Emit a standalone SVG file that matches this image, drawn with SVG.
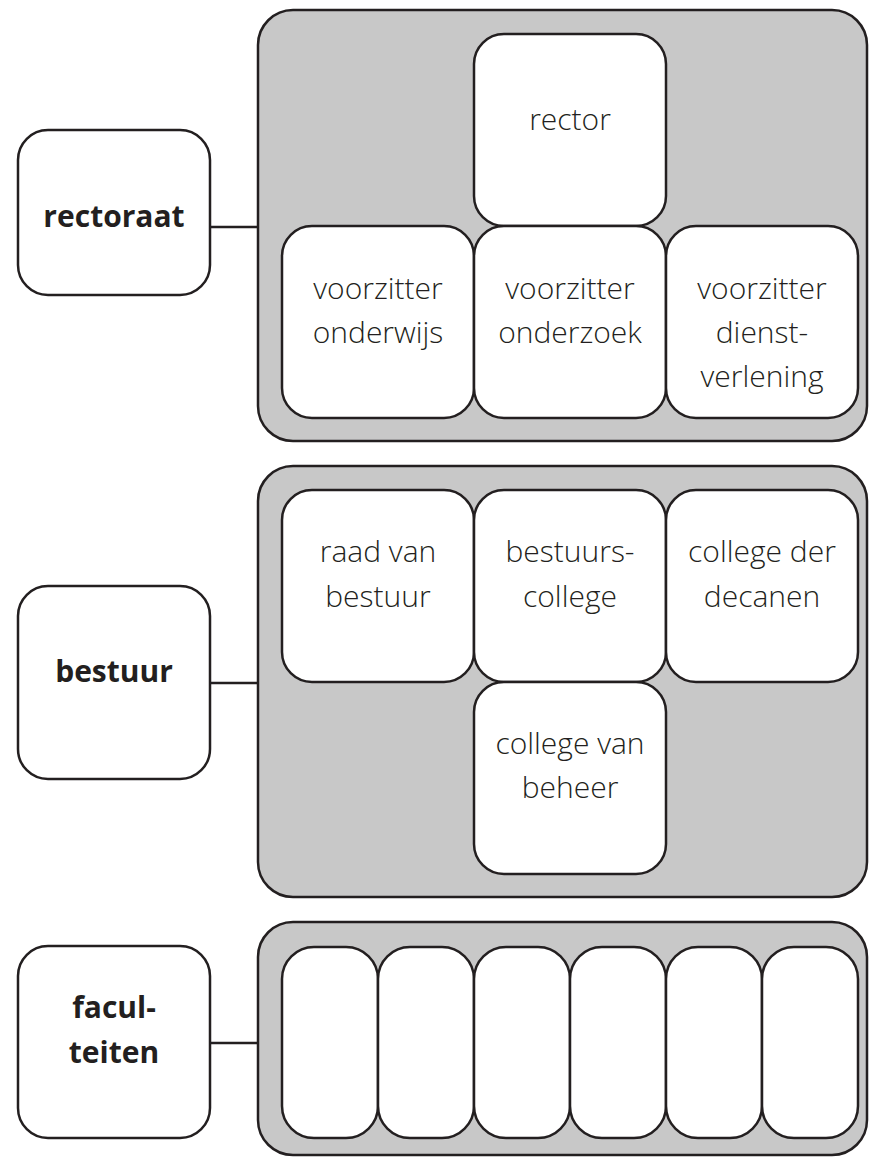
<svg xmlns="http://www.w3.org/2000/svg" width="870" height="1160" viewBox="0 0 870 1160">
<style>
.box{fill:#ffffff;stroke:#231f20;stroke-width:2.5}
.grp{fill:#c8c8c8;stroke:#231f20;stroke-width:2.5}
.lbl{font-family:"Open Sans","Noto Sans",sans-serif;font-weight:bold;font-size:30px;fill:#231f20;text-anchor:middle}
.txt{font-family:"Open Sans","Noto Sans",sans-serif;font-weight:300;font-size:30px;fill:#231f20;text-anchor:middle}
.con{stroke:#231f20;stroke-width:2.5;fill:none}
</style>
<rect width="870" height="1160" fill="#ffffff"/>
<g id="connectors">
<line class="con" x1="210" y1="227" x2="258" y2="227"/>
<line class="con" x1="210" y1="683" x2="258" y2="683"/>
<line class="con" x1="210" y1="1043" x2="258" y2="1043"/>
</g>
<g id="rectoraat">
<rect class="box" x="18" y="130" width="192" height="165" rx="30"/>
<text class="lbl" x="114" y="227">rectoraat</text>
</g>
<g id="rectoraat-group">
<rect class="grp" x="258" y="10" width="609" height="431" rx="35"/>
</g>
<g id="rector">
<rect class="box" x="474" y="34" width="192" height="192" rx="30"/>
<text class="txt" x="570" y="130">rector</text>
</g>
<g id="voorzitter-onderwijs">
<rect class="box" x="282" y="226" width="192" height="192" rx="30"/>
<text class="txt" x="378" y="299">voorzitter</text>
<text class="txt" x="378" y="343">onderwijs</text>
</g>
<g id="voorzitter-onderzoek">
<rect class="box" x="474" y="226" width="192" height="192" rx="30"/>
<text class="txt" x="570" y="299">voorzitter</text>
<text class="txt" x="570" y="343">onderzoek</text>
</g>
<g id="voorzitter-dienstverlening">
<rect class="box" x="666" y="226" width="192" height="192" rx="30"/>
<text class="txt" x="762" y="299">voorzitter</text>
<text class="txt" x="762" y="343">dienst-</text>
<text class="txt" x="762" y="387">verlening</text>
</g>
<g id="bestuur">
<rect class="box" x="18" y="586" width="192" height="193" rx="30"/>
<text class="lbl" x="114" y="682">bestuur</text>
</g>
<g id="bestuur-group">
<rect class="grp" x="258" y="466" width="609" height="431" rx="35"/>
</g>
<g id="raad-van-bestuur">
<rect class="box" x="282" y="490" width="192" height="192" rx="30"/>
<text class="txt" x="378" y="562">raad van</text>
<text class="txt" x="378" y="607">bestuur</text>
</g>
<g id="bestuurscollege">
<rect class="box" x="474" y="490" width="192" height="192" rx="30"/>
<text class="txt" x="570" y="562">bestuurs-</text>
<text class="txt" x="570" y="607">college</text>
</g>
<g id="college-der-decanen">
<rect class="box" x="666" y="490" width="192" height="192" rx="30"/>
<text class="txt" x="762" y="562">college der</text>
<text class="txt" x="762" y="607">decanen</text>
</g>
<g id="college-van-beheer">
<rect class="box" x="474" y="682" width="192" height="192" rx="30"/>
<text class="txt" x="570" y="754">college van</text>
<text class="txt" x="570" y="798">beheer</text>
</g>
<g id="faculteiten">
<rect class="box" x="18" y="946" width="192" height="192" rx="30"/>
<text class="lbl" x="114" y="1018">facul-</text>
<text class="lbl" x="114" y="1063">teiten</text>
</g>
<g id="faculteiten-group">
<rect class="grp" x="258" y="922" width="609" height="233" rx="35"/>
</g>
<g id="faculteit-1"><rect class="box" x="282" y="947" width="96" height="191" rx="32"/></g>
<g id="faculteit-2"><rect class="box" x="378" y="947" width="96" height="191" rx="32"/></g>
<g id="faculteit-3"><rect class="box" x="474" y="947" width="96" height="191" rx="32"/></g>
<g id="faculteit-4"><rect class="box" x="570" y="947" width="96" height="191" rx="32"/></g>
<g id="faculteit-5"><rect class="box" x="666" y="947" width="96" height="191" rx="32"/></g>
<g id="faculteit-6"><rect class="box" x="762" y="947" width="96" height="191" rx="32"/></g>
</svg>
